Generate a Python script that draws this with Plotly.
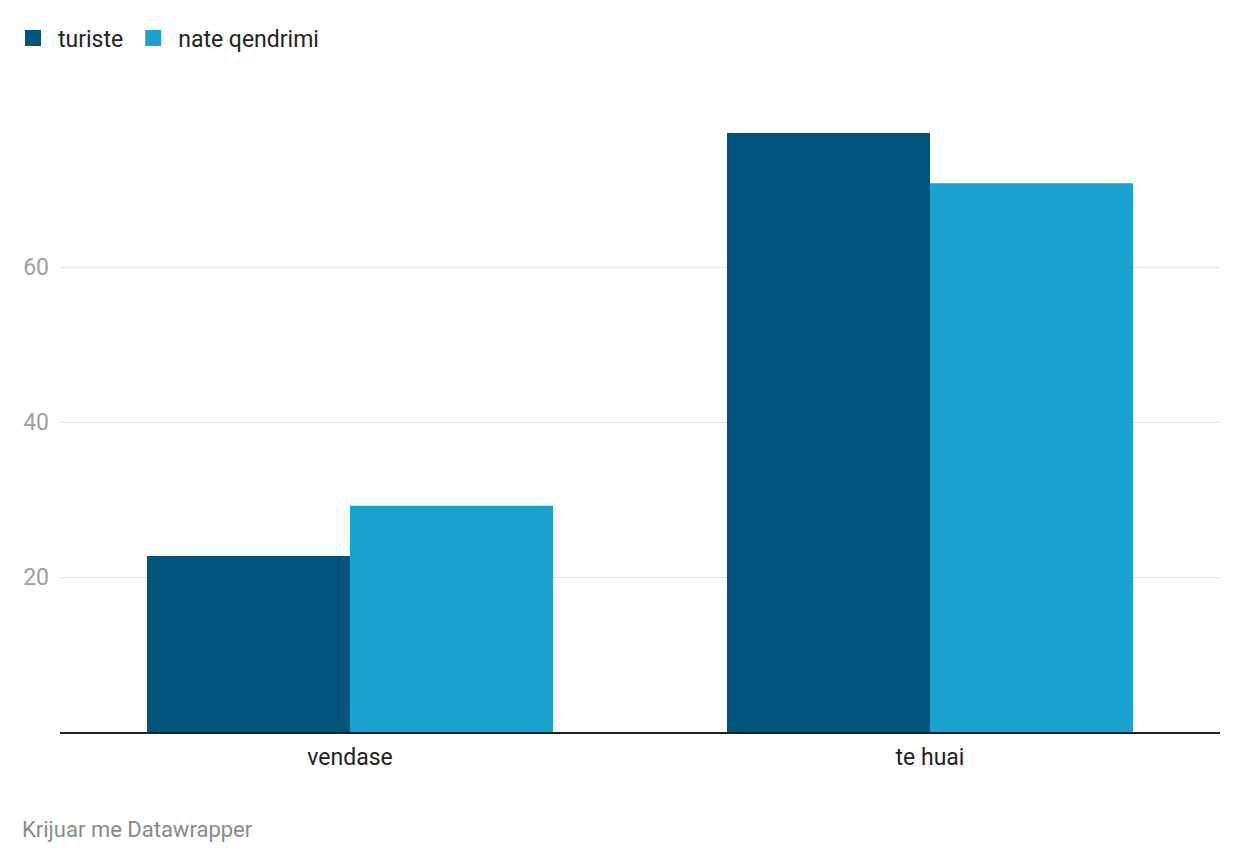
import plotly.graph_objects as go

categories = ["vendase", "te huai"]
turiste = [22.7, 77.3]
nate_qendrimi = [29.2, 70.8]
y_ticks = [20, 40, 60]

DARK = "#01547b"
LIGHT = "#19a2ce"

# the page body adds an 8px offset, so margins are shifted to compensate
L, R, T, B = 52, 28, 104, 140
plot_w = 1240 - L - R
plot_h = 864 - T - B

fig = go.Figure()
fig.add_trace(go.Bar(x=categories, y=turiste, name="turiste", marker_color=DARK,
                     marker_line_width=0, showlegend=False))
fig.add_trace(go.Bar(x=categories, y=nate_qendrimi, name="nate qendrimi", marker_color=LIGHT,
                     marker_line_width=0, showlegend=False))

# legend squares (bigger than the default bar swatch)
for name, col in [("turiste", DARK), ("nate qendrimi", LIGHT)]:
    fig.add_trace(go.Scatter(x=[None], y=[None], mode="markers", name=name,
                             marker=dict(symbol="square", size=28, color=col)))

fig.update_layout(
    width=1240, height=864,
    barmode="group", bargap=0.3, bargroupgap=0,
    paper_bgcolor="white", plot_bgcolor="white",
    font=dict(family="Roboto", size=23, color="#222"),
    margin=dict(l=L, r=R, t=T, b=B),
    legend=dict(orientation="h", xref="container", yref="container", x=0.0, y=0.99,
                xanchor="left", yanchor="top", font=dict(size=23, color="#222"),
                itemsizing="trace", itemwidth=40, tracegroupgap=0),
    hovermode=False,
)
fig.update_xaxes(showline=True, linecolor="#222", linewidth=2, showgrid=False,
                 ticks="", ticklabelstandoff=3, tickfont=dict(size=23, color="#222"))
fig.update_yaxes(range=[0, 80], tickvals=y_ticks, showgrid=True, gridcolor="#e2e2e2",
                 gridwidth=1, zeroline=False, showline=False, ticks="",
                 ticklabelstandoff=10, tickfont=dict(size=23, color="#a0a0a0"))

fig.add_annotation(text="Krijuar me Datawrapper", xref="paper", yref="paper",
                   x=(12 - L) / plot_w, y=(plot_h - (822 - T)) / plot_h,
                   xanchor="left", yanchor="middle",
                   showarrow=False, font=dict(size=22, color="#8a8a8a"))

fig.write_html("out.html")
